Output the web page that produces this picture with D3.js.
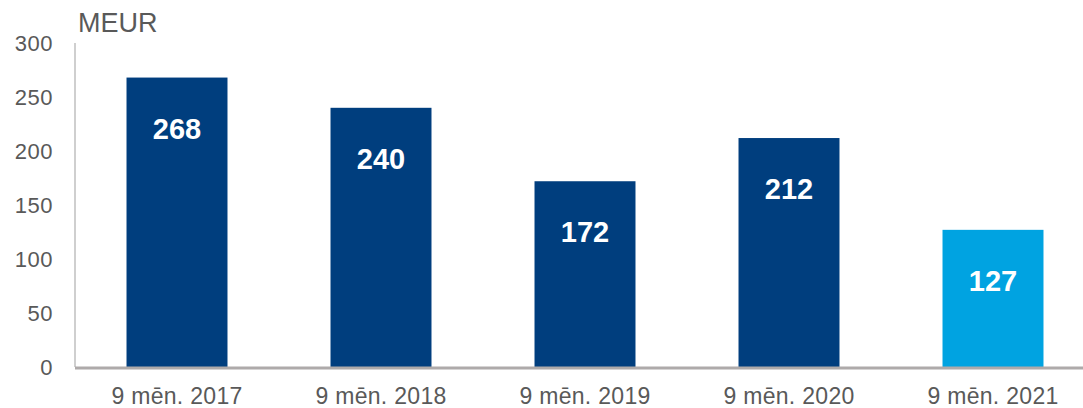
<!DOCTYPE html>
<html>
<head>
<meta charset="utf-8">
<script src="https://cdn.jsdelivr.net/npm/d3@7"></script>
<style>
  body { margin: 0; background: #fff; }
  text { font-family: "Liberation Sans", Arial, sans-serif; }
</style>
</head>
<body>
<div id="chart"></div>
<script>
// data
var categories = ["9 mēn. 2017", "9 mēn. 2018", "9 mēn. 2019", "9 mēn. 2020", "9 mēn. 2021"];
var values = [268, 240, 172, 212, 127];
var barColors = ["#003e7e", "#003e7e", "#003e7e", "#003e7e", "#00a3e1"];
var yTicks = [0, 50, 100, 150, 200, 250, 300];
var unitLabel = "MEUR";

var width = 1083, height = 408;
var margin = {top: 43, right: -12, bottom: 41, left: 75};

var svg = d3.select("#chart").append("svg")
    .attr("width", width)
    .attr("height", height);

var x = d3.scaleBand()
    .domain(categories)
    .range([margin.left, width - margin.right])
    .paddingInner(0.505)
    .paddingOuter(0.2525);

var y = d3.scaleLinear()
    .domain([0, 300])
    .range([height - margin.bottom, margin.top]);

// y axis line and labels
svg.append("line")
    .attr("x1", margin.left).attr("x2", margin.left)
    .attr("y1", y(300)).attr("y2", y(0))
    .attr("stroke", "#bfbfbf").attr("stroke-width", 1.5);

svg.selectAll(".ytick")
    .data(yTicks)
  .enter().append("text")
    .attr("class", "ytick")
    .attr("x", 53)
    .attr("y", function(d) { return y(d); })
    .attr("dy", "0.35em")
    .attr("text-anchor", "end")
    .style("font-size", "22px")
    .style("letter-spacing", "0.5px")
    .style("fill", "#595959")
    .text(function(d) { return d; });

svg.append("text")
    .attr("x", 78)
    .attr("y", 32)
    .style("font-size", "27px")
    .style("fill", "#595959")
    .text(unitLabel);

// bars
var bars = svg.selectAll(".bar")
    .data(values)
  .enter().append("g")
    .attr("class", "bar");

bars.append("rect")
    .attr("x", function(d, i) { return x(categories[i]); })
    .attr("y", function(d) { return y(d); })
    .attr("width", x.bandwidth())
    .attr("height", function(d) { return y(0) - y(d); })
    .style("fill", function(d, i) { return barColors[i]; });

bars.append("text")
    .attr("x", function(d, i) { return x(categories[i]) + x.bandwidth() / 2; })
    .attr("y", function(d) { return y(d) + 51; })
    .attr("dy", "0.35em")
    .attr("text-anchor", "middle")
    .style("font-size", "29px")
    .style("font-weight", "bold")
    .style("fill", "#fff")
    .text(function(d) { return d; });

// x axis
svg.append("line")
    .attr("x1", margin.left).attr("x2", width)
    .attr("y1", y(0) + 1).attr("y2", y(0) + 1)
    .attr("stroke", "#aeaaaa").attr("stroke-width", 3);

svg.selectAll(".xlabel")
    .data(categories)
  .enter().append("text")
    .attr("class", "xlabel")
    .attr("x", function(d) { return x(d) + x.bandwidth() / 2; })
    .attr("y", 404)
    .attr("text-anchor", "middle")
    .style("font-size", "23px")
    .style("letter-spacing", "0.3px")
    .style("fill", "#595959")
    .text(function(d) { return d; });
</script>
</body>
</html>
